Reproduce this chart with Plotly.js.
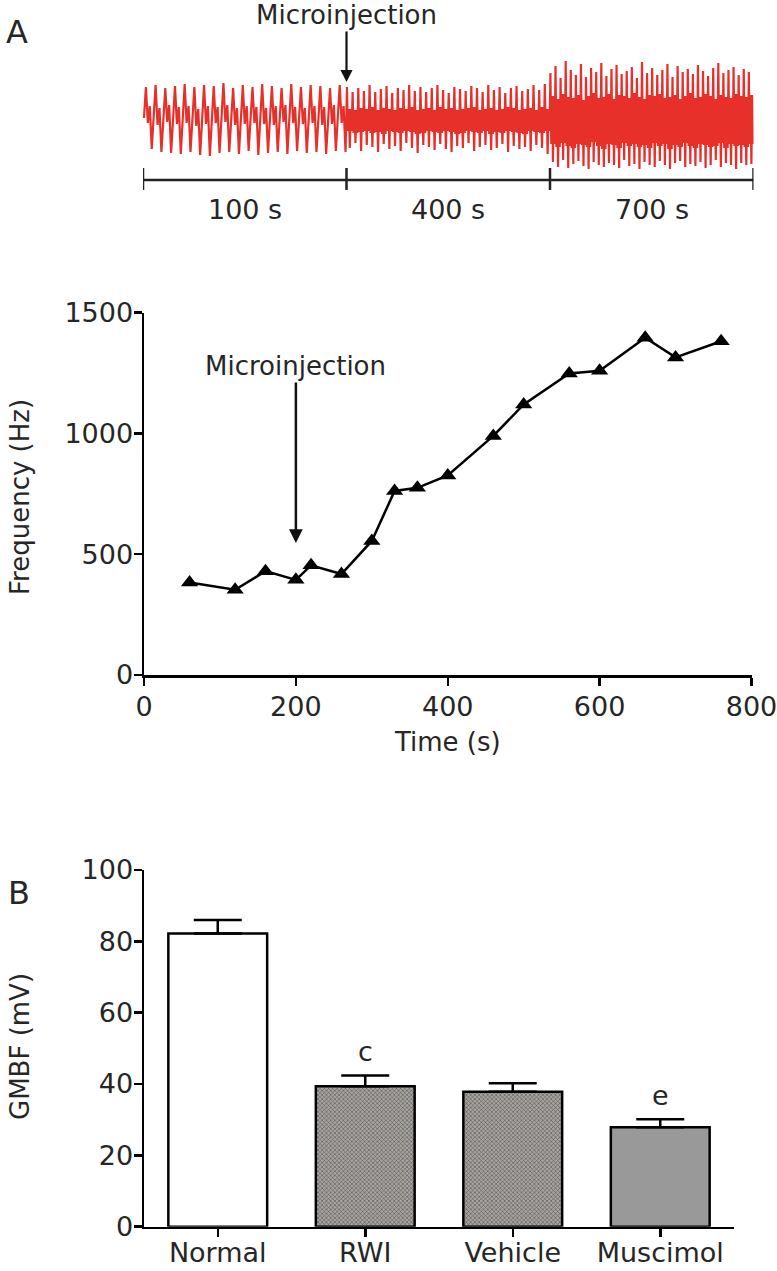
<!DOCTYPE html>
<html><head><meta charset="utf-8">
<script src="https://cdn.plot.ly/plotly-3.0.1.min.js"></script>
<style>html,body{margin:0;padding:0;background:#fff}#chart{width:777px;height:1271px}</style>
</head><body><div id="chart"></div>
<script>
// ---------- Panel A (top): recording snippets, per-spike amplitudes (arbitrary units) ----------
const segLabels = ['100 s', '400 s', '700 s'];
const segBounds = [0, 1, 2, 3];

const seg1Top   = [31,33,30,32,34,31,33,32,35,30,33,31,34,32,30,34,31,33,32,30,33];
const seg1Notch = [-5,-7,-4,-6,-5,-8,-6,-5,-4,-7,-6,-5,-6,-7,-4,-5,-6,-5,-7,-6,-5];
const seg1Hump  = [12,10,13,11,12,9,12,11,13,10,12,11,10,12,13,11,10,12,11,13,12];
const seg1Bot   = [-31,-34,-35,-36,-34,-37,-38,-35,-34,-36,-33,-37,-35,-34,-36,-33,-35,-34,-36,-33,-34];

const seg2Top    = [31,26,30,27,33,26,29,32,25,30,28,33,27,31,26,30,33,28,25,31,29,27,32,30,26,33,28,31,25,30,32,27,29,33,28,34];
const seg2CoreHi = [9,8,10,9,11,8,10,9,8,10,9,11,8,9,10,8,11,9,10,8,9,10,11,8,9,10,8,9,11,10,8,9,10,8,11,9];
const seg2CoreLo = [-13,-15,-14,-13,-15,-14,-16,-13,-14,-15,-13,-14,-16,-15,-13,-14,-15,-13,-14,-16,-15,-13,-14,-15,-13,-16,-14,-15,-13,-14,-15,-16,-13,-14,-15,-13];
const seg2Bot    = [-30,-25,-33,-27,-29,-34,-26,-31,-28,-33,-25,-30,-35,-27,-29,-32,-26,-31,-34,-28,-30,-25,-33,-29,-27,-32,-30,-26,-34,-28,-31,-29,-33,-27,-30,-36];

const seg3Top    = [45,52,40,57,48,43,54,41,50,46,55,42,49,53,44,47,51,40,56,45,50,43,48,54,41,52,46,49,44,53,47,42,50,55,45,48,51,43,49,46];
const seg3CoreHi = [22,19,24,21,20,23,18,22,25,20,21,24,19,23,22,20,25,21,19,23,22,24,20,21,23,19,22,25,20,21,24,22,19,23,21,20,24,22,21,23];
const seg3CoreLo = [-26,-29,-25,-28,-30,-26,-27,-29,-24,-28,-31,-26,-27,-30,-25,-28,-26,-29,-27,-30,-25,-28,-26,-31,-27,-29,-25,-28,-30,-26,-27,-29,-28,-25,-30,-26,-28,-27,-29,-26];
const seg3Bot    = [-44,-49,-42,-50,-46,-43,-48,-51,-44,-47,-49,-45,-47,-50,-42,-48,-46,-51,-44,-47,-49,-43,-47,-51,-45,-43,-49,-46,-48,-44,-50,-47,-42,-49,-45,-47,-51,-45,-47,-46];

// ---------- Panel A (bottom): frequency vs time ----------
const freqTime = [60,120,160,200,220,260,300,330,360,400,460,500,560,600,660,700,760];
const freqHz   = [383,353,430,394,454,418,555,762,775,826,990,1120,1248,1260,1396,1315,1382];
const injectionTime = 200;

// ---------- Panel B: GMBF bars ----------
const groups  = ['Normal','RWI','Vehicle','Muscimol'];
const gmbf    = [82.2, 39.4, 37.8, 27.9];
const gmbfSem = [3.8, 3.0, 2.4, 2.2];
const sigLetters = ['', 'c', '', 'e'];

// ---------- build trace samples ----------
function segmentSamples(k, spikes) {
  const ys = [];
  spikes.forEach(s => s.forEach(v => ys.push(v)));
  const xs = ys.map((_, i) => segBounds[k] + (i + 0.5) / ys.length);
  return {xs, ys};
}
const s1 = segmentSamples(0, seg1Top.map((t, i) => [0, t, seg1Notch[i], seg1Hump[i], seg1Bot[i]]));
const s2 = segmentSamples(1, seg2Top.map((t, i) => [t, seg2CoreLo[i], seg2CoreHi[i], seg2Bot[i], seg2CoreHi[i], seg2CoreLo[i]]));
const s3 = segmentSamples(2, seg3Top.map((t, i) => [t, seg3CoreLo[i], seg3CoreHi[i], seg3Bot[i], seg3CoreHi[i], seg3CoreLo[i]]));
const recX = s1.xs.concat(s2.xs, s3.xs);
const recY = s1.ys.concat(s2.ys, s3.ys);

const W = 777, H = 1271;
const px = x => x / W;
const py = y => 1 - y / H;
const FONT = 'DejaVu Sans, Liberation Sans, sans-serif';
const TXT = '#262626';

const data = [
  {
    type: 'scatter', mode: 'lines', x: recX, y: recY, xaxis: 'x3', yaxis: 'y3',
    line: {color: '#e8302a', width: 2.2}, hoverinfo: 'skip', showlegend: false
  },
  {
    type: 'scatter', mode: 'lines+markers', x: freqTime, y: freqHz, xaxis: 'x', yaxis: 'y',
    line: {color: '#000', width: 2.5},
    marker: {symbol: 'triangle-up', size: 15, color: '#000'},
    showlegend: false, cliponaxis: false
  },
  {
    type: 'bar', x: groups, y: gmbf, xaxis: 'x2', yaxis: 'y2', width: 0.67,
    marker: {
      color: ['#ffffff', '#a8a4a0', '#a8a4a0', '#999999'],
      line: {color: '#000', width: 2.5},
      pattern: {shape: ['', 'x', 'x', ''], fillmode: 'overlay', fgcolor: '#6a6662',
                fgopacity: 1, size: 3, solidity: 0.3}
    },
    error_y: {type: 'data', symmetric: false, array: gmbfSem, arrayminus: gmbfSem.map(() => 0),
              color: '#000', thickness: 2.5, width: 24},
    showlegend: false
  }
];

const axisStyle = {
  showline: true, linecolor: '#000', linewidth: 2.5, ticks: 'outside', ticklen: 8,
  tickwidth: 2.5, tickcolor: '#000', showgrid: false, zeroline: false,
  ticklabeloverflow: 'allow',
  tickfont: {family: FONT, size: 27, color: TXT}
};

const layout = {
  width: W, height: H, margin: {l: 0, r: 0, t: 0, b: 0},
  paper_bgcolor: '#fff', plot_bgcolor: '#fff', showlegend: false,
  font: {family: FONT, color: TXT},
  xaxis3: {domain: [px(143), px(753.5)], range: [0, 3], visible: false, anchor: 'y3'},
  yaxis3: {domain: [py(177), py(55)], range: [-59, 63], visible: false, anchor: 'x3'},
  xaxis: Object.assign({}, axisStyle, {domain: [px(144), px(751.5)], range: [0, 800],
    tickvals: [0, 200, 400, 600, 800], anchor: 'y', ticklabelstandoff: -2,
    title: {text: 'Time (s)', font: {family: FONT, size: 26, color: TXT}, standoff: 12}}),
  yaxis: Object.assign({}, axisStyle, {domain: [py(675), py(312.7)], range: [0, 1500],
    tickvals: [0, 500, 1000, 1500], anchor: 'x', ticklabelstandoff: -5}),
  xaxis2: Object.assign({}, axisStyle, {domain: [px(144), px(734)], range: [-0.5, 3.5],
    type: 'category', anchor: 'y2', ticklabelstandoff: -8}),
  yaxis2: Object.assign({}, axisStyle, {domain: [py(1226.7), py(870)], range: [0, 100],
    tickvals: [0, 20, 40, 60, 80, 100], anchor: 'x2', ticklabelstandoff: -5}),
  shapes: [
    {type: 'line', xref: 'x3', yref: 'paper', x0: segBounds[0], x1: segBounds[3], y0: py(180), y1: py(180),
     line: {color: '#222', width: 2.5}}
  ].concat(segBounds.map(b => ({type: 'line', xref: 'x3', yref: 'paper', x0: b, x1: b,
     y0: py(168), y1: py(190), line: {color: '#222', width: 2.5}}))),
  annotations: [
    {xref: 'paper', yref: 'paper', x: px(4), y: py(32), text: 'A', showarrow: false,
     xanchor: 'left', yanchor: 'middle', font: {family: FONT, size: 32, color: TXT}},
    {xref: 'paper', yref: 'paper', x: px(6), y: py(893), text: 'B', showarrow: false,
     xanchor: 'left', yanchor: 'middle', font: {family: FONT, size: 32, color: TXT}},
    {xref: 'x3', yref: 'y3', x: segBounds[1], y: 36, text: 'Microinjection', showarrow: true,
     ax: 0, ay: -67, arrowhead: 2, arrowsize: 1.1, arrowwidth: 2.2, arrowcolor: '#111',
     font: {family: FONT, size: 26, color: TXT}},
    {xref: 'x', yref: 'y', x: injectionTime, y: 546, text: 'Microinjection', showarrow: true,
     ax: 0, ay: -177, arrowhead: 2, arrowsize: 1.1, arrowwidth: 2.5, arrowcolor: '#111', standoff: 0,
     font: {family: FONT, size: 26, color: TXT}},
    {xref: 'paper', yref: 'paper', x: px(20), y: py(497), text: 'Frequency (Hz)', textangle: -90,
     xanchor: 'center', yanchor: 'middle',
     showarrow: false, font: {family: FONT, size: 26, color: TXT}},
    {xref: 'paper', yref: 'paper', x: px(20), y: py(1047), text: 'GMBF (mV)', textangle: -90,
     xanchor: 'center', yanchor: 'middle',
     showarrow: false, font: {family: FONT, size: 26, color: TXT}}
  ].concat(segLabels.map((t, i) => ({xref: 'x3', yref: 'paper', x: (segBounds[i] + segBounds[i + 1]) / 2,
     y: py(209), yanchor: 'middle', text: t, showarrow: false, font: {family: FONT, size: 27, color: TXT}})))
   .concat(groups.map((g, i) => sigLetters[i] ? ({xref: 'x2', yref: 'y2', x: g, y: gmbf[i] + gmbfSem[i],
     yanchor: 'bottom', yshift: 6, text: sigLetters[i], showarrow: false,
     font: {family: FONT, size: 27, color: TXT}}) : null).filter(a => a))
};

Plotly.newPlot('chart', data, layout, {displayModeBar: false, staticPlot: true});
</script></body></html>
